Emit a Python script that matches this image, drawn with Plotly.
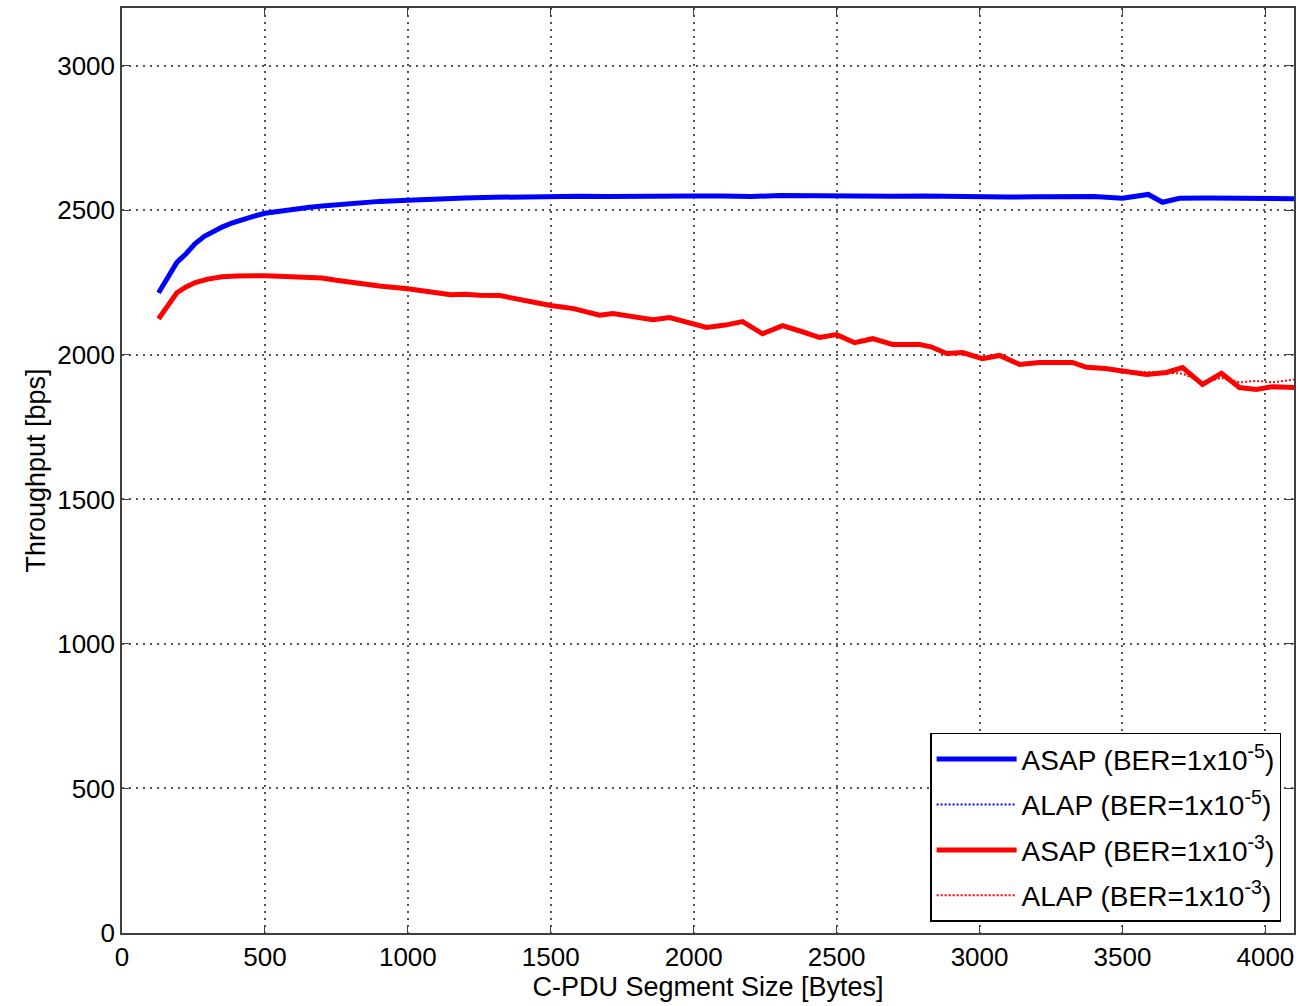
import plotly.graph_objects as go

# ---- data ----
blue_x = [128, 160, 192, 224, 256, 288, 320, 352, 384, 416, 448, 500, 550, 600, 650, 700, 800, 900,
          1000, 1100, 1200, 1300, 1400, 1500, 1600, 1700, 1800, 1900, 2000, 2100, 2200, 2300, 2400,
          2500, 2600, 2700, 2800, 2900, 3000, 3100, 3200, 3300, 3400, 3500, 3550, 3590, 3640, 3700,
          3800, 3900, 4000, 4100]
blue_asap = [2215, 2270, 2320, 2350, 2385, 2410, 2428, 2443, 2456, 2467, 2476, 2490, 2498, 2505, 2510,
             2515, 2524, 2531, 2535, 2540, 2543, 2545, 2547, 2549, 2549, 2548, 2550, 2551, 2550, 2550,
             2548, 2551, 2550, 2548, 2550, 2549, 2550, 2548, 2546, 2546, 2547, 2548, 2548, 2542, 2548,
             2555, 2528, 2542, 2543, 2542, 2540, 2540]
blue_alap = [2215, 2270, 2320, 2350, 2385, 2410, 2428, 2443, 2456, 2467, 2476, 2490, 2498, 2505, 2510,
             2515, 2524, 2531, 2535, 2540, 2543, 2545, 2547, 2549, 2549, 2548, 2550, 2551, 2550, 2550,
             2548, 2551, 2550, 2548, 2550, 2549, 2550, 2548, 2546, 2546, 2547, 2548, 2548, 2542, 2548,
             2555, 2530, 2542, 2543, 2542, 2540, 2540]

red_x = [128, 160, 192, 224, 256, 300, 350, 400, 450, 500, 550, 600, 650, 700, 750, 800, 850, 900,
         1000, 1050, 1100, 1150, 1200, 1250, 1322, 1400, 1500, 1580, 1671, 1717, 1780, 1857, 1916,
         1980, 2045, 2110, 2171, 2241, 2311, 2380, 2441, 2500, 2563, 2626, 2696, 2790, 2830, 2885,
         2941, 3010, 3070, 3140, 3210, 3325, 3374, 3440, 3500, 3584, 3654, 3710, 3780, 3846, 3909,
         3968, 4024, 4101]
red_asap = [2125, 2170, 2215, 2235, 2250, 2262, 2270, 2273, 2275, 2274, 2272, 2270, 2268, 2266, 2258,
            2250, 2245, 2238, 2229, 2222, 2213, 2208, 2210, 2206, 2205, 2190, 2171, 2160, 2137, 2143,
            2135, 2122, 2129, 2110, 2095, 2103, 2115, 2073, 2101, 2080, 2060, 2070, 2042, 2056, 2036,
            2036, 2028, 2005, 2008, 1987, 1998, 1967, 1974, 1974, 1957, 1953, 1946, 1932, 1939, 1956,
            1898, 1936, 1887, 1880, 1890, 1887]
red_alap = [2125, 2170, 2215, 2235, 2250, 2262, 2270, 2273, 2275, 2274, 2272, 2270, 2268, 2266, 2258,
            2250, 2245, 2238, 2229, 2222, 2213, 2208, 2210, 2206, 2205, 2190, 2171, 2160, 2137, 2143,
            2135, 2122, 2129, 2110, 2095, 2103, 2115, 2073, 2101, 2080, 2060, 2070, 2042, 2056, 2036,
            2036, 2028, 2005, 2008, 1987, 1998, 1967, 1974, 1974, 1957, 1953, 1946, 1940, 1939, 1935,
            1905, 1920, 1905, 1910, 1905, 1915]

names = ["ASAP (BER=1x10<sup>-5</sup>)", "ALAP (BER=1x10<sup>-5</sup>)",
         "ASAP (BER=1x10<sup>-3</sup>)", "ALAP (BER=1x10<sup>-3</sup>)"]

x_ticks = [0, 500, 1000, 1500, 2000, 2500, 3000, 3500, 4000]
y_ticks = [0, 500, 1000, 1500, 2000, 2500, 3000]

fig = go.Figure()
fig.add_trace(go.Scatter(x=blue_x, y=blue_asap, mode="lines", name=names[0], legendgroup="g1",
                         line=dict(color="#0000ff", width=5)))
fig.add_trace(go.Scatter(x=blue_x, y=blue_alap, mode="lines", name=names[1], legendgroup="g2",
                         line=dict(color="#0000ff", width=2, dash="2px,2px")))
fig.add_trace(go.Scatter(x=red_x, y=red_asap, mode="lines", name=names[2], legendgroup="g3",
                         line=dict(color="#ff0000", width=5)))
fig.add_trace(go.Scatter(x=red_x, y=red_alap, mode="lines", name=names[3], legendgroup="g4",
                         line=dict(color="#ff0000", width=2, dash="2px,2px")))

axis_common = dict(
    showline=True, linecolor="#404040", linewidth=1.5, mirror="ticks",
    ticks="inside", ticklen=8, tickcolor="#404040",
    showgrid=True, gridcolor="#555555", griddash="2px,5px", gridwidth=1.5,
    zeroline=False, tickfont=dict(size=26, color="black"),
)

fig.update_layout(
    width=1299, height=1006,
    margin=dict(l=122, r=3, t=8, b=73),
    paper_bgcolor="white", plot_bgcolor="white",
    font=dict(family="Arial, Liberation Sans, sans-serif", color="black", size=26),
    showlegend=True,
    legend=dict(x=0.989, y=0.012, xanchor="right", yanchor="bottom",
                bordercolor="black", borderwidth=1.5, bgcolor="white",
                font=dict(size=28), itemwidth=80, tracegroupgap=6),
    xaxis=dict(range=[0, 4100], tickvals=x_ticks,
               title=dict(text="C-PDU Segment Size [Bytes]", standoff=6, font=dict(size=27)),
               **axis_common),
    yaxis=dict(range=[0, 3200], tickvals=y_ticks,
               title=dict(text="Throughput [bps]", standoff=4, font=dict(size=27)),
               **axis_common),
)

fig.write_html("out.html")
